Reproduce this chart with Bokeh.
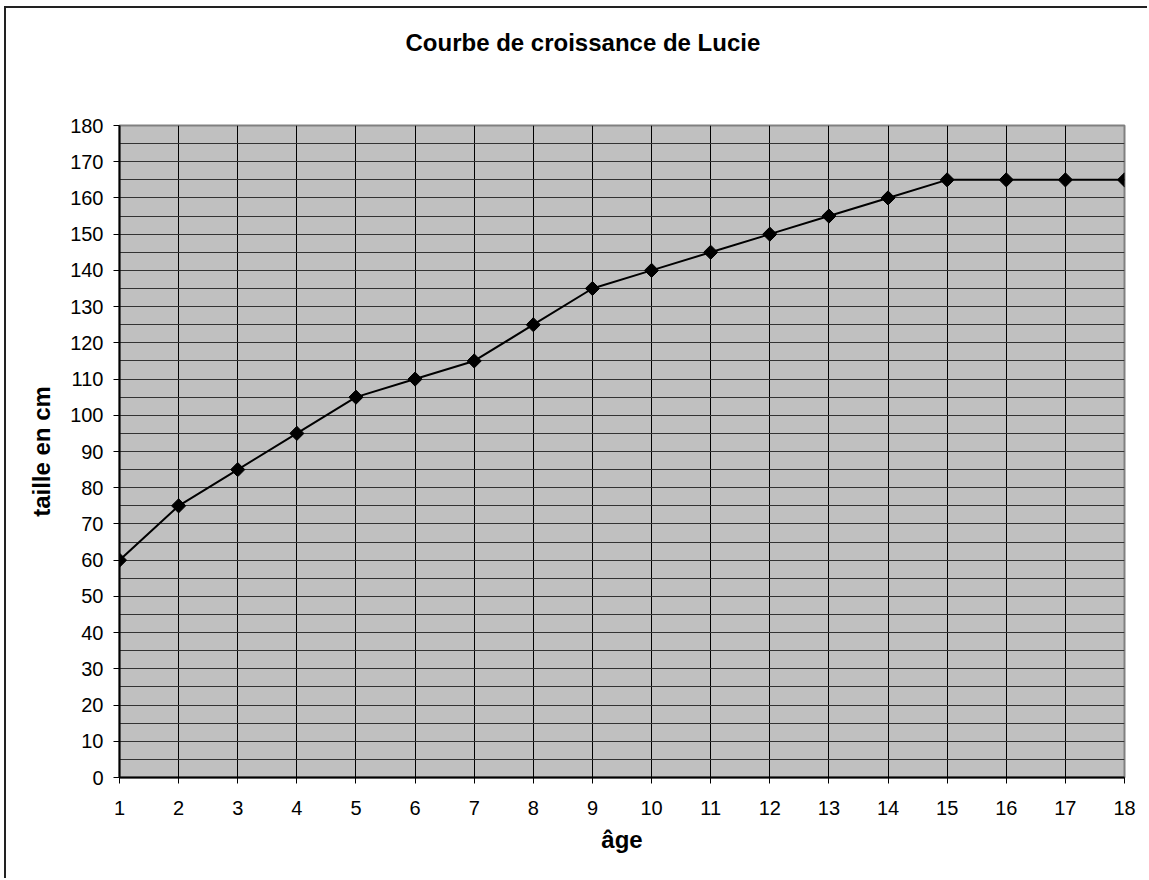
from bokeh.plotting import figure
from bokeh.models import Range1d, FixedTicker
from bokeh.embed import file_html
from bokeh.resources import INLINE
import math

ages = list(range(1, 19))
heights = [60, 75, 85, 95, 105, 110, 115, 125, 135, 140, 145, 150, 155, 160, 165, 165, 165, 165]
x_ticks = list(range(1, 19))
y_ticks = list(range(0, 181, 10))
y_minor = list(range(5, 180, 10))
title_text = "Courbe de croissance de Lucie"

FONT = "Liberation Sans"

p = figure(width=1143, height=872, output_backend="svg", toolbar_location=None,
           x_range=Range1d(1, 18), y_range=Range1d(0, 180),
           min_border_left=113, min_border_right=25, min_border_top=117, min_border_bottom=103)

p.styles = {"margin-left": "4px", "margin-top": "6px",
            "border-left": "2px solid #222", "border-top": "2px solid #222"}

p.background_fill_color = "#C0C0C0"
p.border_fill_color = "white"
p.outline_line_color = "#808080"
p.outline_line_width = 2

# title, padded with blank lines so that it sits high above the frame
p.title.text = title_text + "\n \n "
p.title.text_font = FONT
p.title.text_font_size = "24px"
p.title.text_font_style = "bold"
p.title.text_color = "black"
p.title.align = "left"
p.title.offset = 286
p.title.vertical_align = "top"
p.title.standoff = 28

p.xaxis.ticker = FixedTicker(ticks=x_ticks)
p.yaxis.ticker = FixedTicker(ticks=y_ticks, minor_ticks=y_minor)

for ax in (p.xaxis, p.yaxis):
    ax.axis_line_color = "black"
    ax.axis_line_width = 2
    ax.major_tick_line_color = "black"
    ax.major_tick_out = 6
    ax.major_tick_in = 0
    ax.minor_tick_line_color = None
    ax.major_label_text_font = FONT
    ax.major_label_text_font_size = "20px"
    ax.major_label_text_color = "black"
    ax.axis_label_text_font = FONT
    ax.axis_label_text_font_size = "24px"
    ax.axis_label_text_font_style = "bold"
    ax.axis_label_text_color = "black"

p.xaxis.axis_label = "âge"
p.yaxis.axis_label = "taille en cm"
p.xaxis.major_label_standoff = 17
p.xaxis.axis_label_standoff = 8
p.yaxis.major_label_standoff = 10
p.yaxis.axis_label_standoff = 12

p.xgrid.grid_line_color = "black"
p.xgrid.grid_line_width = 1
p.ygrid.grid_line_color = "#333333"
p.ygrid.grid_line_width = 1
p.ygrid.minor_grid_line_color = "#333333"
p.ygrid.minor_grid_line_width = 1

p.line(ages, heights, line_color="black", line_width=2)
p.scatter(ages, heights, marker="square", size=10, angle=math.pi / 4,
          fill_color="black", line_color="black")

open("out.html", "w").write(file_html(p, INLINE))
